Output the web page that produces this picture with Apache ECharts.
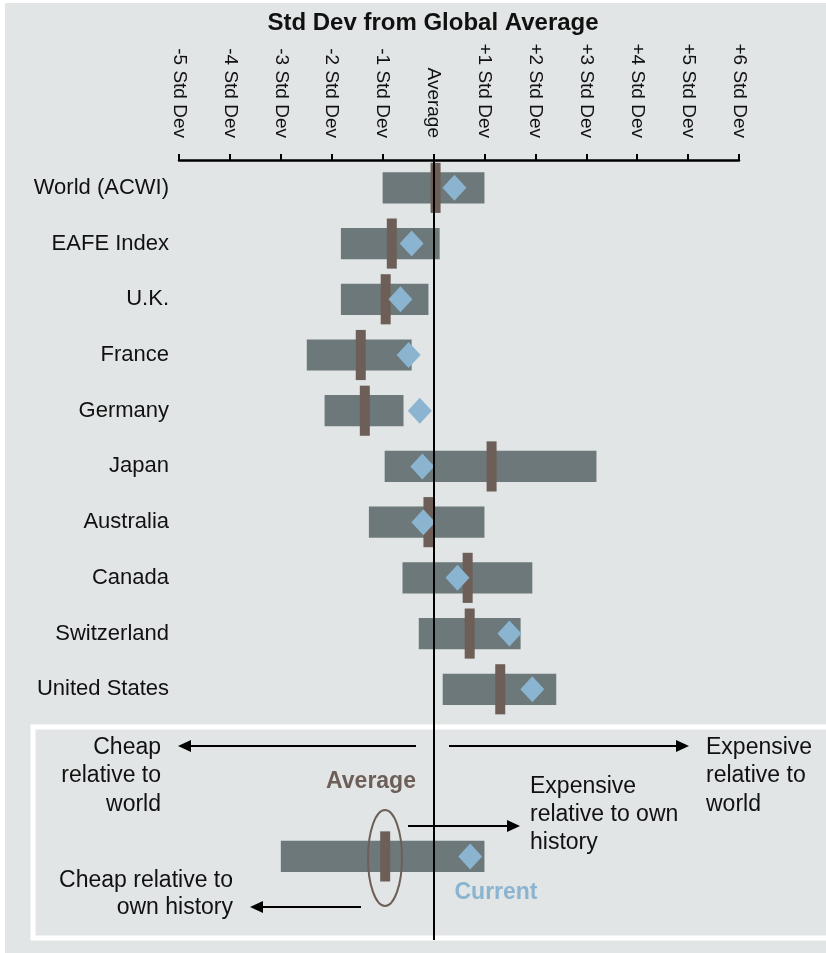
<!DOCTYPE html>
<html>
<head>
<meta charset="utf-8">
<script src="https://cdn.jsdelivr.net/npm/echarts@6/dist/echarts.min.js"></script>
<style>
html,body{margin:0;padding:0;background:#fff;}
#chart{width:826px;height:953px;}
</style>
</head>
<body>
<div id="chart"></div>
<script>
// ---- Data ----
const countries = ['World (ACWI)', 'EAFE Index', 'U.K.', 'France', 'Germany', 'Japan', 'Australia', 'Canada', 'Switzerland', 'United States'];
const lows     = [-1.00, -1.82, -1.82, -2.49, -2.14, -0.96, -1.27, -0.61, -0.29, 0.18];
const highs    = [ 1.00,  0.12, -0.10, -0.43, -0.59,  3.20,  1.00,  1.94,  1.71, 2.41];
const averages = [ 0.04, -0.82, -0.94, -1.43, -1.35,  1.14, -0.10,  0.67,  0.71, 1.31];
const currents = [ 0.41, -0.43, -0.65, -0.49, -0.27, -0.22, -0.20,  0.47,  1.49, 1.94];
// legend example row
const exampleLow = -3.0, exampleHigh = 1.0, exampleAvg = -0.95, exampleCurrent = 0.72;
const tickLabels = ['-5 Std Dev', '-4 Std Dev', '-3 Std Dev', '-2 Std Dev', '-1 Std Dev', 'Average',
  '+1 Std Dev', '+2 Std Dev', '+3 Std Dev', '+4 Std Dev', '+5 Std Dev', '+6 Std Dev'];
const tickValues = [-5, -4, -3, -2, -1, 0, 1, 2, 3, 4, 5, 6];

// ---- Build ----
const categories = countries.concat(['_gap1', '_gap2', '_example', '_gap3']);
const exampleIndex = 12;
const rangeData = countries.map((c, i) => [lows[i], highs[i], i]).concat([[exampleLow, exampleHigh, exampleIndex]]);
const avgData = countries.map((c, i) => [averages[i], i]).concat([[exampleAvg, exampleIndex]]);
const curData = countries.map((c, i) => [currents[i], i]).concat([[exampleCurrent, exampleIndex]]);

const FONT = '"Liberation Sans", Arial, sans-serif';
const BG = '#e1e5e6';
const BAR = '#6c7879';
const AVG = '#6d5f57';
const CUR = '#8ab4d0';

function arrow(xFrom, xTip, y) {
  const dir = xTip > xFrom ? 1 : -1;
  const head = 13;
  return [
    { type: 'line', z: 50, shape: { x1: xFrom, y1: y, x2: xTip - dir * head, y2: y }, style: { stroke: '#000', lineWidth: 2 } },
    { type: 'polygon', z: 50, shape: { points: [[xTip, y], [xTip - dir * head, y - 6], [xTip - dir * head, y + 6]] }, style: { fill: '#000' } }
  ];
}
function txt(x, y, text, align, opts) {
  return {
    type: 'text', z: 50, x: x, y: y,
    style: Object.assign({ text: text, fill: '#111', font: '23px ' + FONT, align: align, verticalAlign: 'middle', lineHeight: 28.5 }, opts || {})
  };
}

const chart = echarts.init(document.getElementById('chart'));
const option = {
  backgroundColor: '#ffffff',
  animation: false,
  title: {
    text: 'Std Dev from Global Average', left: 428, top: 6, textAlign: 'center',
    textStyle: { fontFamily: FONT, fontSize: 24, fontWeight: 'bold', color: '#111' }
  },
  grid: { left: 179, right: 87, top: 160, bottom: 13 },
  xAxis: {
    type: 'value', position: 'top', min: -5, max: 6, interval: 1,
    splitLine: { show: false },
    axisLine: { show: true, lineStyle: { color: '#000', width: 2.5 } },
    axisTick: { show: true, length: 6, lineStyle: { color: '#000', width: 2 } },
    axisLabel: {
      rotate: 90, margin: 22, color: '#111', fontFamily: FONT, fontSize: 19,
      formatter: v => { const k = tickValues.indexOf(Math.round(v)); return k >= 0 ? tickLabels[k] : ''; }
    }
  },
  yAxis: {
    type: 'category', data: categories, inverse: true,
    axisLine: { show: false }, axisTick: { show: false }, splitLine: { show: false },
    axisLabel: {
      margin: 10, color: '#111', fontFamily: FONT, fontSize: 22,
      formatter: v => v.charAt(0) === '_' ? '' : v
    }
  },
  graphic: [
    { type: 'rect', z: -10, shape: { x: 5, y: 3, width: 830, height: 960 }, style: { fill: BG } },
    { type: 'rect', z: -5, shape: { x: 33, y: 727, width: 800, height: 211 }, style: { fill: 'none', stroke: '#ffffff', lineWidth: 5 } },
    ...arrow(416, 178, 746),
    ...arrow(449, 689, 746),
    ...arrow(408, 520, 826),
    ...arrow(361, 250, 907),
    txt(161, 776, 'Cheap\nrelative to\nworld', 'right'),
    txt(706, 776, 'Expensive\nrelative to\nworld', 'left'),
    txt(530, 815, 'Expensive\nrelative to own\nhistory', 'left', { lineHeight: 28 }),
    txt(233, 894, 'Cheap relative to\nown history', 'right', { lineHeight: 27 }),
    txt(371, 782, 'Average', 'center', { fill: AVG, font: 'bold 23px ' + FONT }),
    txt(496, 893, 'Current', 'center', { fill: CUR, font: 'bold 23px ' + FONT }),
    { type: 'ellipse', z: 40, shape: { cx: 385, cy: 858, rx: 17, ry: 48 }, style: { fill: 'none', stroke: AVG, lineWidth: 2 } }
  ],
  series: [
    {
      type: 'custom', name: 'range', z: 2,
      encode: { x: [0, 1], y: 2 },
      data: rangeData,
      renderItem: function (params, api) {
        const yi = api.value(2);
        const p1 = api.coord([api.value(0), yi]);
        const p2 = api.coord([api.value(1), yi]);
        const h = api.size([0, 1])[1] * 0.56;
        return { type: 'rect', shape: { x: p1[0], y: p1[1] - h / 2, width: p2[0] - p1[0], height: h }, style: { fill: BAR } };
      }
    },
    {
      type: 'custom', name: 'average', z: 3,
      encode: { x: 0, y: 1 },
      data: avgData,
      renderItem: function (params, api) {
        const p = api.coord([api.value(0), api.value(1)]);
        const h = api.size([0, 1])[1] * 0.9;
        const w = 10;
        return { type: 'rect', shape: { x: p[0] - w / 2, y: p[1] - h / 2, width: w, height: h }, style: { fill: AVG } };
      }
    },
    {
      type: 'scatter', name: 'current', z: 4,
      symbol: 'diamond', symbolSize: [24, 26],
      itemStyle: { color: CUR, opacity: 1 },
      data: curData,
      markLine: {
        silent: true, symbol: 'none', z: 5,
        label: { show: false },
        lineStyle: { color: '#000', width: 2, type: 'solid' },
        data: [{ xAxis: 0 }]
      }
    }
  ]
};
chart.setOption(option);
</script>
</body>
</html>
